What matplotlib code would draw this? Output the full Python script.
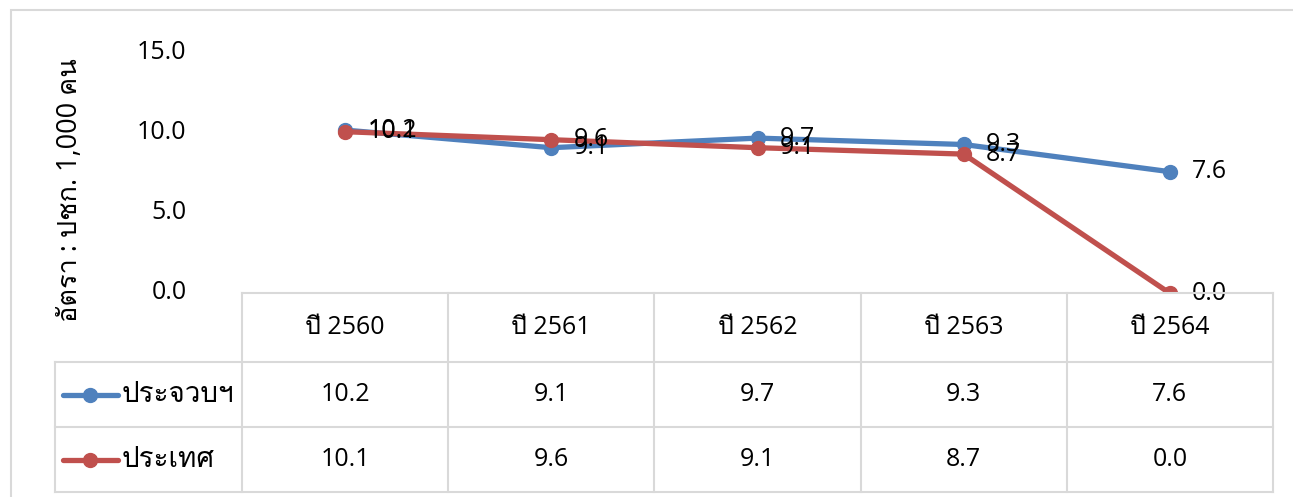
import numpy as np
import matplotlib
matplotlib.use('Agg')
import matplotlib.pyplot as plt
import matplotlib.transforms as mtransforms
from matplotlib import font_manager
from matplotlib.ft2font import FT2Font

# ── Data ──────────────────────────────────────────────────────────────────────
years = ['ปี 2560', 'ปี 2561', 'ปี 2562', 'ปี 2563', 'ปี 2564']
series_names = ['ประจวบฯ', 'ประเทศ']
province = [10.2, 9.1, 9.7, 9.3, 7.6]
country = [10.1, 9.6, 9.1, 8.7, 0.0]
colors = ['#4F81BD', '#C0504D']
ylabel = 'อัตรา : ปชก. 1,000 คน'
yticks = [0.0, 5.0, 10.0, 15.0]

# ── Font with Thai glyphs, if any is installed ────────────────────────────────
thai_fams = []
for f in font_manager.fontManager.ttflist:
    try:
        if ord('ป') in FT2Font(f.fname).get_charmap() and f.name not in thai_fams:
            thai_fams.append(f.name)
    except Exception:
        pass
# Latin digits in Open Sans (close to Segoe/Leelawadee), Thai from the Thai font
plt.rcParams['font.family'] = ['Open Sans'] + thai_fams[:1] + ['DejaVu Sans']

FS = 18
W, H = 1293, 497
fig = plt.figure(figsize=(W / 100, H / 100), dpi=100)

def fx(px):
    return px / W

def fy(py):
    return 1 - py / H

# main plot area
ax = fig.add_axes([fx(242), fy(293.3), fx(1273 - 242), fy(53.3) - fy(293.3)])
x = np.arange(len(years))
for vals, c in zip([province, country], colors):
    ax.plot(x, vals, color=c, lw=3.8, marker='o', ms=10, solid_capstyle='round', zorder=3)
    for xi, v in zip(x, vals):
        ax.annotate(f'{v:.1f}', (xi, v), xytext=(16, 0), textcoords='offset points',
                    va='center', ha='left', fontsize=FS, color='black', zorder=4)
ax.set_xlim(-0.5, len(years) - 0.5)
ax.set_ylim(0, 15)
ax.set_yticks(yticks)
ax.set_yticklabels([f'{t:.1f}' for t in yticks], fontsize=FS)
ax.tick_params(axis='y', length=0, pad=40)
shift = mtransforms.ScaledTranslation(0, 4 / 100, fig.dpi_scale_trans)
for lab in ax.get_yticklabels():
    lab.set_transform(lab.get_transform() + shift)
ax.set_xticks([])
for s in ['left', 'right', 'top', 'bottom']:
    ax.spines[s].set_visible(False)
ax.patch.set_alpha(0)
fig.text(fx(70), fy(190), ylabel, rotation=90, ha='center', va='center', fontsize=19.5)

# ── Data table ────────────────────────────────────────────────────────────────
unit = (1273 - 242) / len(years)
left_x = -0.5 - (242 - 55) / unit
row_edges = [293, 362, 427, 492]
tab = fig.add_axes([fx(55), fy(492), fx(1273 - 55), fy(293) - fy(492)])
tab.set_xlim(left_x, len(years) - 0.5)
tab.set_ylim(492, 293)
tab.axis('off')
grid_c = '#D9D9D9'
lw = 1.5
tab.plot([-0.5, len(years) - 0.5], [row_edges[0]] * 2, color=grid_c, lw=lw, clip_on=False)
for r in row_edges[1:]:
    tab.plot([left_x, len(years) - 0.5], [r, r], color=grid_c, lw=lw, clip_on=False)
for c in range(len(years) + 1):
    tab.plot([c - 0.5, c - 0.5], [row_edges[0], row_edges[-1]], color=grid_c, lw=lw, clip_on=False)
tab.plot([left_x, left_x], [row_edges[1], row_edges[-1]], color=grid_c, lw=lw, clip_on=False)

hdr_y = (row_edges[0] + row_edges[1]) / 2
for i, yr in enumerate(years):
    tab.text(i, hdr_y, yr, ha='center', va='center', fontsize=FS)
for r, (name, vals, c) in enumerate(zip(series_names, [province, country], colors)):
    yrow = (row_edges[r + 1] + row_edges[r + 2]) / 2
    lx0 = left_x + 8 / unit
    lx1 = left_x + 63 / unit
    tab.plot([lx0, lx1], [yrow, yrow], color=c, lw=3.8, solid_capstyle='round', clip_on=False)
    tab.plot([(lx0 + lx1) / 2], [yrow], 'o', color=c, ms=10, clip_on=False)
    tab.text(left_x + 67 / unit, yrow, name, ha='left', va='center', fontsize=20)
    for i, v in enumerate(vals):
        tab.text(i, yrow, f'{v:.1f}', ha='center', va='center', fontsize=FS)

# outer chart border (runs off the right and bottom edges, as in the source)
fig.add_artist(plt.Rectangle((fx(11), fy(510)), fx(1310 - 11), fy(10) - fy(510),
                             fill=False, edgecolor=grid_c, lw=1.5, transform=fig.transFigure))

fig.savefig('out.png', dpi=100)
